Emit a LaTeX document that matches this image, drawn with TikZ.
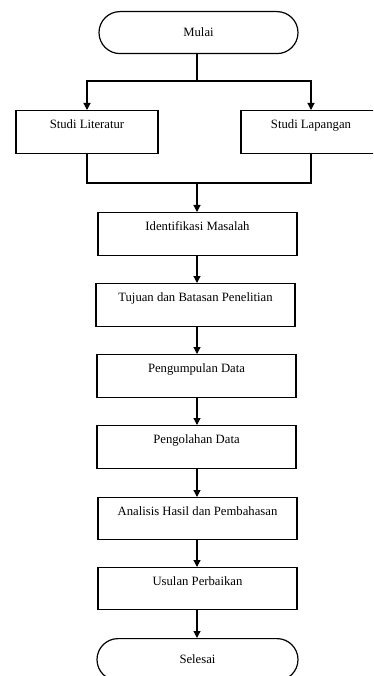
\documentclass[tikz,border=0pt]{standalone}
\usepackage{fontspec}
\setmainfont{Liberation Serif}
\usetikzlibrary{arrows.meta}
\tikzset{
  x=1pt, y=-1pt,
  stepbox/.style={draw, line width=1.2pt, inner sep=0pt, anchor=north,
    text height=18pt, text depth=25pt, minimum width=199pt,
    font=\fontsize{12.7}{14}\selectfont},
  termbox/.style={draw, line width=1.2pt, inner sep=0pt, anchor=north,
    minimum height=42pt, minimum width=199pt, rounded corners=21pt,
    font=\fontsize{12.7}{14}\selectfont},
  conn/.style={line width=1.2pt},
  arr/.style={line width=1.2pt, -{Triangle[length=7pt,width=7pt]}},
}
\begin{document}
\begin{tikzpicture}
\useasboundingbox (0,0) rectangle (373,676);
\clip (0,0) rectangle (373,676);
\fill[white] (0,0) rectangle (373,676);
\node[termbox] (mulai) at (198.5,11) {Mulai};
\node[stepbox, minimum width=142pt] (lit) at (87,110) {Studi Literatur};
\node[stepbox, minimum width=140pt] (lap) at (311,110) {Studi Lapangan};
\node[stepbox] (idm) at (197.5,212) {Identifikasi Masalah};
\node[stepbox] (tuj) at (195.5,283) {Tujuan dan Batasan Penelitian};
\node[stepbox] (pgm) at (196.5,354) {Pengumpulan Data};
\node[stepbox] (pgl) at (196.5,425) {Pengolahan Data};
\node[stepbox, text depth=24pt] (ana) at (197.5,497) {Analisis Hasil dan Pembahasan};
\node[stepbox, text depth=24pt] (usl) at (197.5,567) {Usulan Perbaikan};
\node[termbox, minimum width=201pt] (sls) at (197.5,638) {Selesai};
\coordinate (j1) at (197,81);
\coordinate (j2) at (197,183);
\draw[conn] (mulai.south -| j1) -- (j1);
\draw[arr] (j1) -| (lit.north);
\draw[arr] (j1) -| (lap.north);
\draw[conn] (lit.south) |- (j2) -| (lap.south);
\draw[arr] (j2) -- (idm.north -| j2);
\draw[arr] (idm.south -| j2) -- (tuj.north -| j2);
\draw[arr] (tuj.south -| j2) -- (pgm.north -| j2);
\draw[arr] (pgm.south -| j2) -- (pgl.north -| j2);
\draw[arr] (pgl.south -| j2) -- (ana.north -| j2);
\draw[arr] (ana.south -| j2) -- (usl.north -| j2);
\draw[arr] (usl.south -| j2) -- (sls.north -| j2);
\end{tikzpicture}
\end{document}
